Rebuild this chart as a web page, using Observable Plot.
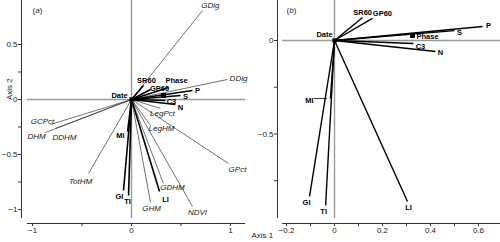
<!DOCTYPE html>
<html><head><meta charset="utf-8">
<script src="https://cdn.jsdelivr.net/npm/d3@7"></script>
<script src="https://cdn.jsdelivr.net/npm/@observablehq/plot@0.6"></script>
<style>
body{margin:0;background:#fff;}
#wrap{display:flex;width:500px;height:242px;overflow:hidden;}
#wrap svg{display:block;flex:none;}
</style></head><body><div id="wrap"></div>
<script>
// ---------- Panel (a) data ----------
const namesA = ["GDig","DDig","P","S","Phase","SR60","GP60","C3","N","LegPct","LegHM","GPct","NDVI","GDHM","LI","GHM","TI","GI","MI","TotHM","GCPct","DHM","DDHM"];
const axis1A = [0.717,0.970,0.616,0.495,0.374,0.121,0.192,0.343,0.444,0.293,0.192,0.980,0.616,0.323,0.283,0.192,-0.030,-0.081,-0.040,-0.434,-0.818,-0.869,-0.768];
const axis2A = [0.809,0.182,0.082,0.036,0.109,0.127,0.091,-0.009,-0.045,-0.082,-0.236,-0.582,-0.973,-0.764,-0.836,-0.936,-0.873,-0.827,-0.291,-0.673,-0.227,-0.300,-0.264];
const phasePointA = [{name: "Phase", x: 0.323, y: 0.036}];
const datePointA = [{name: "Date", x: 0, y: 0}];
const xTicksA = [-1, -0.5, 0, 0.5, 1];
const xTickLabelsA = ["−1", "", "0", "", "1"];
const yTicksA = [0.5, 0.25, 0, -0.25, -0.5, -0.75, -1];
const yTickLabelsA = ["0.5", "", "0", "", "−0.5", "", "−1"];

// ---------- Panel (b) data ----------
const namesB = ["P","S","C3","N","SR60","GP60","MI","GI","TI","LI"];
const axis1B = [0.617,0.500,0.329,0.421,0.117,0.158,-0.017,-0.104,-0.037,0.304];
const axis2B = [0.075,0.053,-0.016,-0.059,0.123,0.118,-0.310,-0.834,-0.882,-0.861];
const phasePointB = [{name: "Phase", x: 0.325, y: 0.027}];
const datePointB = [{name: "Date", x: 0, y: 0}];
const xTicksB = [-0.2, -0.1, 0, 0.1, 0.2, 0.3, 0.4, 0.5, 0.6];
const xTickLabelsB = ["−0.2", "", "0", "", "0.2", "", "0.4", "", "0.6"];
const yTicksB = [0, -0.25, -0.5, -0.75];
const yTickLabelsB = ["0", "", "−0.5", ""];

// ---------- styling / layout config ----------
const boldNames = new Set(["P","S","Phase","SR60","GP60","C3","N","LI","TI","GI","MI","Date"]);
const labelOffsetA = {GDig:[8,-5], DDig:[11,-1], P:[5,0], S:[5,1], Phase:[8,-7], SR60:[3,-5], GP60:[9,-1], C3:[6,1], N:[5,3], LegPct:[2,5], LegHM:[11,3], GPct:[9,6], NDVI:[5,6], GDHM:[9,4], LI:[6,8], GHM:[1,6], TI:[-1,6], GI:[-4,6], MI:[-7,4], TotHM:[-8,8], GCPct:[-8,-3], DHM:[-9,4], DDHM:[9,9], Date:[-12,-4]};
const labelOffsetB = {P:[6,-1], S:[5,2], C3:[7,3], N:[5,1], SR60:[0,-5], GP60:[10,-5], MI:[-21,2], GI:[-3,6], TI:[-2,6], LI:[1,6], Phase:[15,1], Date:[-10,-6]};
const FONT = "'Liberation Sans', Arial, Helvetica, sans-serif";

function buildPanel(cfg) {
  const vecs = cfg.names.map((n, i) => ({name: n, x: cfg.ax1[i], y: cfg.ax2[i]}));
  const W = 250, H = 242;
  const pxX = (W - cfg.ml - cfg.mr - cfg.il) / (cfg.xd[1] - cfg.xd[0]);
  const pxY = (H - cfg.mt - cfg.mb - cfg.ib) / (cfg.yd[1] - cfg.yd[0]);
  const lab = d => {
    const o = cfg.off[d.name] || [0, 0];
    return {name: d.name, x: d.x + o[0] / pxX, y: d.y - o[1] / pxY};
  };
  const allLabels = [...vecs, ...(cfg.phaseLabel ? cfg.phase : []), ...cfg.date].map(lab);
  const boldLabels = allLabels.filter(d => boldNames.has(d.name));
  const italLabels = allLabels.filter(d => !boldNames.has(d.name));
  const thick = vecs.filter(d => cfg.allThick || boldNames.has(d.name));
  const thin = vecs.filter(d => !(cfg.allThick || boldNames.has(d.name)));
  const xFmt = new Map(cfg.xt.map((t, i) => [t, cfg.xtl[i]]));
  const yFmt = new Map(cfg.yt.map((t, i) => [t, cfg.ytl[i]]));
  const marks = [
    Plot.ruleX([0], {y1: cfg.yd[0], y2: cfg.yd[1], stroke: "#9a9a9a", strokeWidth: 1.4}),
    Plot.ruleY([0], {x1: cfg.xd[0], x2: cfg.xd[1], stroke: "#9a9a9a", strokeWidth: 1.4}),
    Plot.ruleX([cfg.xd[0]], {y1: cfg.yd[0], y2: cfg.yd[1], dx: -cfg.il, stroke: "#333", strokeWidth: 1}),
    Plot.ruleY([cfg.yd[0]], {x1: cfg.xd[0], x2: cfg.xd[1], dy: cfg.ib, stroke: "#333", strokeWidth: 1}),
    Plot.axisX(cfg.xt, {tickSize: 3, tickPadding: 1, tickFormat: d => xFmt.get(d), label: null, stroke: "#333", fill: "#222"}),
    Plot.axisY(cfg.yt, {anchor: "left", tickSize: 3, tickPadding: 1, tickFormat: d => yFmt.get(d), label: null, stroke: "#333", fill: "#222"}),
    Plot.link(thin, {x1: 0, y1: 0, x2: "x", y2: "y", stroke: "#333", strokeWidth: 0.7}),
    Plot.link(thick, {x1: 0, y1: 0, x2: "x", y2: "y", stroke: "#000", strokeWidth: cfg.thickW}),
    Plot.dot(cfg.phase, {x: "x", y: "y", symbol: "square", r: 2.8, fill: "#000"}),
    Plot.dot(cfg.date, {x: "x", y: "y", symbol: "square", r: 2.4, fill: "#000"}),
    Plot.text(boldLabels, {x: "x", y: "y", text: "name", fontWeight: "bold", fontSize: 7.5, fill: "#000"}),
    Plot.text(italLabels, {x: "x", y: "y", text: "name", fontStyle: "italic", fontSize: 8, fill: "#222"}),
    Plot.text([cfg.tag], {frameAnchor: "top-left", dx: cfg.tagDx, dy: 7, textAnchor: "start", fontSize: 8, fill: "#222"})
  ];
  if (cfg.leader) {
    const m = vecs.filter(d => d.name === cfg.leader);
    marks.push(Plot.ruleY(m, {y: "y", x1: d => d.x - 16 / pxX, x2: d => d.x - 3 / pxX, stroke: "#000", strokeWidth: 0.8}));
  }
  if (cfg.yLabel) marks.push(Plot.text([cfg.yLabel], {frameAnchor: "left", rotate: -90, dx: -12, dy: -12, fontSize: 8, fill: "#222"}));
  if (cfg.xLabel) marks.push(Plot.text([cfg.xLabel], {frameAnchor: "bottom-left", textAnchor: "start", dx: -cfg.ml + 1, dy: 14, fontSize: 8, fill: "#222"}));
  const svg = Plot.plot({
    width: W, height: H,
    marginLeft: cfg.ml, marginRight: cfg.mr, marginTop: cfg.mt, marginBottom: cfg.mb,
    insetLeft: cfg.il, insetBottom: cfg.ib,
    x: {domain: cfg.xd, label: null},
    y: {domain: cfg.yd, label: null},
    style: {fontFamily: FONT, fontSize: "8px", color: "#222", background: "#fff", overflow: "visible"},
    marks
  });
  d3.select(svg).selectAll("text").each(function () {
    const t = this.textContent;
    if (t === cfg.tag) {
      const s = d3.select(this);
      s.text("");
      s.append("tspan").text("(");
      s.append("tspan").attr("font-style", "italic").text(t.slice(1, -1));
      s.append("tspan").text(")");
    }
  });
  return svg;
}

const wrap = document.getElementById("wrap");
wrap.appendChild(buildPanel({
  names: namesA, ax1: axis1A, ax2: axis2A, phase: phasePointA, date: datePointA, phaseLabel: false,
  xd: [-1.051, 1.152], yd: [-1.082, 0.9], ml: 21, mr: 5, mt: 0, mb: 19, il: 6, ib: 5,
  xt: xTicksA, xtl: xTickLabelsA, yt: yTicksA, ytl: yTickLabelsA,
  off: labelOffsetA, thickW: 1.6, allThick: false, tag: "(a)", tagDx: 11, yLabel: "Axis 2"
}));
wrap.appendChild(buildPanel({
  names: namesB, ax1: axis1B, ax2: axis2B, phase: phasePointB, date: datePointB, phaseLabel: true,
  xd: [-0.2167, 0.6917], yd: [-0.952, 0.214], ml: 27, mr: 0, mt: 0, mb: 19, il: 5, ib: 5,
  xt: xTicksB, xtl: xTickLabelsB, yt: yTicksB, ytl: yTickLabelsB,
  off: labelOffsetB, thickW: 1.4, allThick: true, tag: "(b)", tagDx: 9, leader: "MI", xLabel: "Axis 1"
}));
</script></body></html>
